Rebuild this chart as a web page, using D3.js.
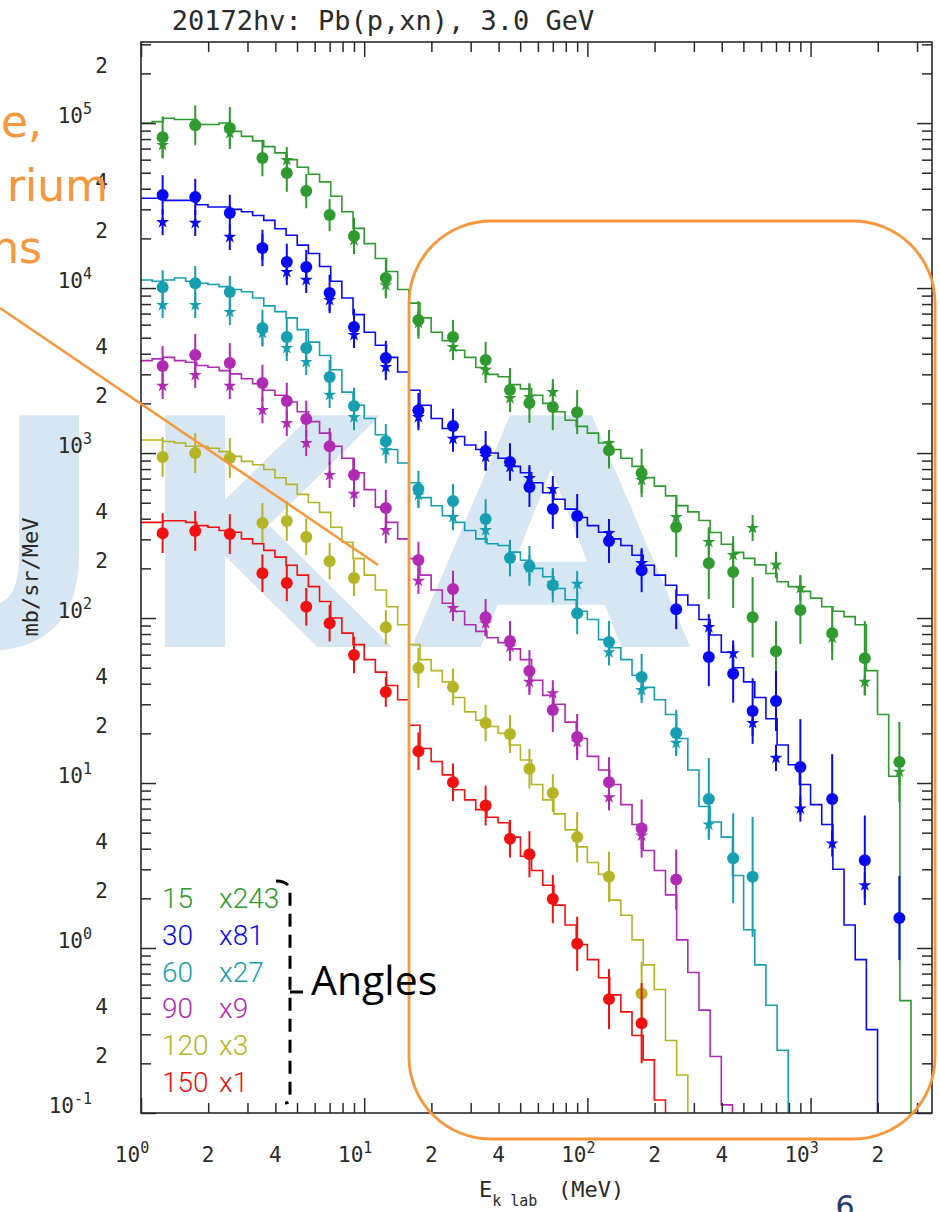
<!DOCTYPE html>
<html>
<head>
<meta charset="utf-8">
<script src="https://cdn.jsdelivr.net/npm/d3@7"></script>
<style>
    body { margin: 0; background: #fff; }
    svg { display: block; }
</style>
</head>
<body>
<svg id="chart" width="940" height="1212"></svg>
<script>

// ##################################################
// #                                                #
// #  Data                                          #
// #                                                #
// ##################################################

// energies of the measured points (MeV)
const energies = [1.25, 1.75, 2.5, 3.5, 4.5, 5.5, 7, 9, 12.5, 17.5, 25, 35, 45, 55, 70, 90,
    125, 175, 250, 350, 450, 550, 700, 900, 1250, 1750, 2500];

const angles = [15, 30, 60, 90, 120, 150];
const factors = ['x243', 'x81', 'x27', 'x9', 'x3', 'x1'];
const colors = ['#2f9a2f', '#0a0af2', '#159fb0', '#b02ab4', '#b4b424', '#f21010'];

// histogram bins, 20 per decade starting at 1 MeV (scaled mb/sr/MeV)
const hist15 = [100000, 102000, 107000, 105000, 105000, 98000, 98000, 100000, 89000, 83000,
    78000, 72000, 66000, 60000, 54000, 49000, 44000, 36000, 29000, 23000,
    18600, 15100, 12600, 9800, 8100, 6600, 5400, 4800, 4200, 3800,
    3300, 3000, 2900, 2600, 2450, 2240, 2000, 1780, 1580, 1450,
    1320, 1150, 1050, 930, 830, 710, 630, 550, 480, 440,
    390, 330, 280, 250, 230, 210, 186, 166, 155, 145,
    132, 117, 110, 102, 91, 48, 26, 11, 0.48];
const hist30 = [35000, 35000, 34000, 34000, 34000, 32000, 31000, 31000, 30000, 29000,
    27500, 25700, 22900, 20900, 18200, 16200, 13500, 11000, 8700, 6900,
    5400, 4500, 3800, 3100, 2400, 1950, 1620, 1410, 1260, 1120,
    1050, 1000, 930, 830, 760, 660, 575, 525, 457, 407,
    363, 331, 302, 275, 240, 209, 182, 158, 138, 120,
    98, 79, 62, 50, 41, 33, 24.5, 17, 12.9, 9.8,
    7.4, 5.6, 3.0, 1.38, 0.85, 0.32];
const hist60 = [11200, 11000, 11200, 11500, 11000, 10700, 10500, 10200, 9800, 9500,
    8700, 7800, 7200, 6600, 5600, 4700, 3900, 3200, 2340, 1950,
    1620, 1290, 1050, 870, 660, 537, 479, 417, 380, 339,
    302, 282, 275, 251, 224, 200, 178, 151, 129, 110,
    98, 74, 66, 56, 45, 38, 32, 26, 18.6, 12,
    7.2, 5.8, 4.7, 2.75, 1.29, 0.79, 0.45, 0.24];
const hist90 = [3630, 3720, 3800, 3630, 3550, 3390, 3310, 3160, 3020, 2820,
    2630, 2400, 2240, 2040, 1780, 1550, 1320, 1100, 930, 760,
    600, 470, 380, 302, 229, 182, 148, 123, 110, 91,
    83, 76, 71, 65, 56, 42, 34, 30, 23.4, 18.6,
    14.5, 12, 9.8, 7.4, 5.6, 3.9, 2.95, 2.1, 1.12, 0.71,
    0.42, 0.22, 0.112];
const hist120 = [1200, 1200, 1175, 1150, 1100, 1100, 1070, 1020, 955, 890,
    850, 794, 708, 646, 562, 501, 437, 355, 288, 229,
    182, 148, 117, 91, 69, 56, 48, 41, 33, 27,
    24, 22, 20, 17, 13.8, 9.8, 7.9, 6.5, 5.2, 4.1,
    3.3, 2.8, 1.95, 1.58, 1.12, 0.79, 0.56, 0.275, 0.17];
const hist150 = [380, 380, 389, 389, 380, 363, 355, 339, 331, 302,
    282, 257, 234, 209, 182, 155, 126, 100, 81, 69,
    56, 47, 39, 32, 22.4, 16.2, 13.5, 11.2, 9.1, 7.9,
    6.9, 6.2, 5.75, 4.7, 3.6, 2.95, 2.4, 1.82, 1.38, 1.05,
    0.85, 0.66, 0.52, 0.41, 0.295, 0.21, 0.12];

// measured points, circles
const circ15 = [82000, 97000, 93300, 61400, 49800, 38700, 27700, 20700, 11500, 6400, 5050, 3660, 2410, 2010,
    1900, 1770, 1040, 757, 356, 215, 190, 101, 63, 112, 81, 57, 13.4];
const circ30 = [36600, 35600, 28500, 17500, 14400, 13400, 9330, 5800, 3770, 1820, 1460, 1030, 882, 622,
    458, 415, 293, 195, 113, 58, 46, 27.3, 31.4, 12.5, 8.0, 3.4, 1.52];
const circ60 = [10100, 10700, 9460, 5720, 5050, 4330, 2890, 1930, 1180, 605, 512, 398, 231, 207,
    158, 107, 71.6, 43.9, 20.1, 8.0, 3.5, 2.7, null, null, null, null, null];
const circ90 = [3370, 3930, 3510, 2660, 2070, 1610, 1100, 736, 464, 225, 150, 101, 72.6, 47.7,
    27.7, 19.0, 10.1, 5.3, 2.6, null, null, null, null, null, null, null, null];
const circ120 = [946, 1000, 933, 377, 387, 310, 221, 175, 88, 49.8, 38.2, 23.1, 19.8, 12.2,
    8.7, 4.7, 2.7, 0.53, null, null, null, null, null, null, null, null, null];
const circ150 = [327, 337, 323, 187, 163, 117, 93, 59.7, 35.6, 15.6, 10.1, 7.3, 4.6, 3.7,
    1.98, 1.06, 0.49, 0.35, null, null, null, null, null, null, null, null, null];

// multiplicative error on the circles
const err15 = [1.34, 1.32, 1.34, 1.29, 1.30, 1.27, 1.25, 1.29, 1.29, 1.30, 1.27, 1.29, 1.36, 1.32,
    1.38, 1.36, 1.29, 1.40, 1.52, 1.65, 1.65, 1.75, 1.52, 1.61, 1.46, 1.68, 1.75];
const err30 = [1.32, 1.29, 1.29, 1.29, 1.29, 1.27, 1.29, 1.29, 1.27, 1.27, 1.27, 1.32, 1.30, 1.32,
    1.32, 1.36, 1.36, 1.36, 1.32, 1.50, 1.50, 1.58, 1.52, 1.95, 1.87, 1.87, 1.80];
const err60 = [1.27, 1.27, 1.25, 1.29, 1.30, 1.27, 1.27, 1.29, 1.27, 1.29, 1.27, 1.32, 1.29, 1.32,
    1.27, 1.34, 1.34, 1.38, 1.38, 1.77, 1.87, 2.31, null, null, null, null, null];
const err90 = [1.32, 1.34, 1.32, 1.29, 1.29, 1.29, 1.29, 1.27, 1.29, 1.29, 1.29, 1.29, 1.32, 1.34,
    1.36, 1.38, 1.42, 1.50, 1.52, null, null, null, null, null, null, null, null];
const err120 = [1.32, 1.32, 1.32, 1.32, 1.32, 1.29, 1.29, 1.29, 1.27, 1.32, 1.29, 1.29, 1.30, 1.32,
    1.30, 1.42, 1.42, 1.56, null, null, null, null, null, null, null, null, null];
const err150 = [1.32, 1.32, 1.32, 1.30, 1.29, 1.30, 1.29, 1.29, 1.23, 1.30, 1.30, 1.32, 1.30, 1.38,
    1.40, 1.46, 1.52, 1.75, null, null, null, null, null, null, null, null, null];

// measured points, stars
const star15 = [73600, null, 87000, null, 59700, null, null, 19500, 10400, 6140, 4390, 3190, 2150, 2180,
    2340, null, 1150, 686, 409, 289, 241, 351, 210, 152, 76, 41, 11.7];
const star30 = [25100, 24800, 20400, 17700, 12500, 11200, 8460, 5190, 3320, 1650, 1220, 946, 822, 705,
    605, null, 327, 215, null, 88, 61, 23.1, 14.2, 7.0, 4.3, 2.4, null];
const star60 = [7890, 7890, 7160, 5340, 4330, 3560, 2250, 1650, 1040, 557, 409, 341, null, 201,
    163, 161, 62, 36.6, 17.5, 5.6, null, null, null, null, null, null, null];
const star90 = [2550, 2970, 2550, 1820, 1520, 1150, 736, 565, 341, 168, 115, 93, 67, 41,
    35, 17.7, 8.2, 4.8, null, null, null, null, null, null, null, null, null];

// tick labels
const xLabels = [1, 2, 4, 10, 20, 40, 100, 200, 400, 1000, 2000];
const yLabels = [0.1, 0.2, 0.4, 1, 2, 4, 10, 20, 40, 100, 200, 400, 1000, 2000, 4000,
    10000, 20000, 40000, 100000, 200000];

// ##################################################
// #                                                #
// #  Setup                                         #
// #                                                #
// ##################################################

const plot = {left: 141, right: 932, top: 42, bottom: 1113};
const starErr = 1.2;
const binEdges = d3.range(0, 72).map(k => Math.pow(10, k / 20));

const series = [
    {hist: hist15, circ: circ15, err: err15, star: star15},
    {hist: hist30, circ: circ30, err: err30, star: star30},
    {hist: hist60, circ: circ60, err: err60, star: star60},
    {hist: hist90, circ: circ90, err: err90, star: star90},
    {hist: hist120, circ: circ120, err: err120, star: null},
    {hist: hist150, circ: circ150, err: err150, star: null}
].map((s, i) => Object.assign(s, {angle: angles[i], factor: factors[i], color: colors[i]}));

const x = d3.scaleLog().domain([1, 3500]).range([plot.left, plot.right]);
const y = d3.scaleLog().domain([0.1, 3.1e5]).range([plot.bottom, plot.top]);

const svg = d3.select('#chart');
const mono = 'DejaVu Sans Mono, monospace';
const ink = '#2a2a2a';

svg.append('rect').attr('width', 940).attr('height', 1212).attr('fill', '#fff');

// ##################################################
// #                                                #
// #  Watermark                                     #
// #                                                #
// ##################################################

let mark = svg.append('g')
    .attr('fill', '#d6e6f3')
    .attr('font-family', 'DejaVu Sans, sans-serif')
    .attr('font-weight', 'bold')
    .attr('font-size', 318);
mark.append('text').attr('x', -150).attr('y', 647).text('U');
mark.append('text').attr('x', 136).attr('y', 647).text('K');
mark.append('text').attr('x', 410).attr('y', 647)
    .attr('textLength', 282).attr('lengthAdjust', 'spacingAndGlyphs').text('A');

// ##################################################
// #                                                #
// #  Histograms and points                         #
// #                                                #
// ##################################################

svg.append('defs').append('clipPath').attr('id', 'plot-clip')
    .append('rect')
    .attr('x', plot.left).attr('y', plot.top)
    .attr('width', plot.right - plot.left).attr('height', plot.bottom - plot.top);

let dataGroup = svg.append('g').attr('clip-path', 'url(#plot-clip)');

let stepLine = d3.line()
    .x(d => x(d[0]))
    .y(d => y(d[1]))
    .curve(d3.curveStepAfter);

function stepPoints(values) {
    let pts = values.map((v, i) => [binEdges[i], v]);
    pts.push([binEdges[values.length], values[values.length - 1]]);
    pts.push([binEdges[values.length], 0.05]);
    return pts;
}

dataGroup.selectAll('.hist')
    .data(series)
    .enter()
    .append('path')
    .attr('class', 'hist')
    .attr('fill', 'none')
    .attr('stroke', d => d.color)
    .attr('stroke-width', 1.6)
    .attr('d', d => stepLine(stepPoints(d.hist)));

let star = d3.symbol().type(d3.symbolStar).size(52);

series.forEach(s => {
    let g = dataGroup.append('g').attr('class', 'points');
    let circles = energies.map((e, i) => ({e, v: s.circ[i], f: s.err[i]})).filter(d => d.v != null);
    let stars = s.star ? energies.map((e, i) => ({e, v: s.star[i]})).filter(d => d.v != null) : [];

    g.selectAll('.err')
        .data(circles)
        .enter()
        .append('line')
        .attr('class', 'err')
        .attr('x1', d => x(d.e)).attr('x2', d => x(d.e))
        .attr('y1', d => y(d.v * d.f)).attr('y2', d => y(d.v / d.f))
        .attr('stroke', s.color).attr('stroke-width', 2);

    g.selectAll('.star-err')
        .data(stars)
        .enter()
        .append('line')
        .attr('class', 'star-err')
        .attr('x1', d => x(d.e)).attr('x2', d => x(d.e))
        .attr('y1', d => y(d.v * starErr)).attr('y2', d => y(d.v / starErr))
        .attr('stroke', s.color).attr('stroke-width', 2);

    g.selectAll('.star')
        .data(stars)
        .enter()
        .append('path')
        .attr('class', 'star')
        .attr('transform', d => `translate(${x(d.e)},${y(d.v)})`)
        .attr('d', star)
        .attr('fill', s.color);

    g.selectAll('.dot')
        .data(circles)
        .enter()
        .append('circle')
        .attr('class', 'dot')
        .attr('cx', d => x(d.e)).attr('cy', d => y(d.v))
        .attr('r', 6)
        .attr('fill', s.color);
});

// ##################################################
// #                                                #
// #  Axes                                          #
// #                                                #
// ##################################################

let xTicks = x.ticks();
let yTicks = y.ticks();
const isMajor = v => Math.abs(Math.log10(v) - Math.round(Math.log10(v))) < 1e-6;

function tickAxis(axisFn, scale, values, size, transform) {
    let g = svg.append('g')
        .attr('transform', transform)
        .call(axisFn(scale).tickValues(values).tickSizeInner(-size).tickSizeOuter(0).tickFormat(''));
    g.select('.domain').remove();
    g.selectAll('line').attr('stroke', ink).attr('stroke-width', 1.5);
}

[[d3.axisBottom, x, xTicks, `translate(0,${plot.bottom})`],
 [d3.axisTop, x, xTicks, `translate(0,${plot.top})`],
 [d3.axisLeft, y, yTicks, `translate(${plot.left},0)`],
 [d3.axisRight, y, yTicks, `translate(${plot.right},0)`]].forEach(a => {
    tickAxis(a[0], a[1], a[2].filter(v => !isMajor(v)), 10, a[3]);
    tickAxis(a[0], a[1], a[2].filter(isMajor), 15, a[3]);
});

svg.append('rect')
    .attr('x', plot.left).attr('y', plot.top)
    .attr('width', plot.right - plot.left).attr('height', plot.bottom - plot.top)
    .attr('fill', 'none').attr('stroke', ink).attr('stroke-width', 1.6);

function label(g, v) {
    if (isMajor(v)) {
        g.append('tspan').text('10');
        g.append('tspan').attr('dy', -9).attr('font-size', 15).text(Math.round(Math.log10(v)));
    } else {
        g.text(Math.round(v / Math.pow(10, Math.floor(Math.log10(v) + 1e-9))));
    }
}

let xl = svg.append('g').attr('font-family', mono).attr('font-size', 21).attr('fill', ink);
xLabels.forEach(v => {
    let t = xl.append('text')
        .attr('x', isMajor(v) ? x(v) - 9 : x(v))
        .attr('y', 1162)
        .attr('text-anchor', 'middle');
    label(t, v);
});

let yl = svg.append('g').attr('font-family', mono).attr('font-size', 21).attr('fill', ink);
yLabels.forEach(v => {
    let t = yl.append('text')
        .attr('x', isMajor(v) ? 92 : 108)
        .attr('y', y(v))
        .attr('text-anchor', 'end');
    label(t, v);
});

// titles
svg.append('text')
    .attr('x', 383).attr('y', 30)
    .attr('text-anchor', 'middle')
    .attr('font-family', mono).attr('font-size', 27).attr('fill', ink)
    .text('20172hv: Pb(p,xn), 3.0 GeV');

let xt = svg.append('text')
    .attr('x', 479).attr('y', 1197)
    .attr('font-family', mono).attr('font-size', 22).attr('fill', ink);
xt.append('tspan').text('E');
xt.append('tspan').attr('dy', 9).attr('font-size', 15).text('k lab');
xt.append('tspan').attr('dy', -9).attr('x', 558).text('(MeV)');

svg.append('text')
    .attr('transform', 'translate(38,577) rotate(-90)')
    .attr('text-anchor', 'middle')
    .attr('font-family', mono).attr('font-size', 22).attr('fill', ink)
    .text('mb/sr/MeV');

// ##################################################
// #                                                #
// #  Legend                                        #
// #                                                #
// ##################################################

let legend = svg.append('g')
    .attr('font-family', 'Roboto, sans-serif')
    .attr('font-weight', 300)
    .attr('font-size', 28);

let rows = legend.selectAll('.row')
    .data(series)
    .enter()
    .append('g')
    .attr('class', 'row')
    .attr('fill', d => d.color)
    .attr('transform', (d, i) => `translate(0,${908 + i * 36.8})`);
rows.append('text').attr('x', 162).text(d => d.angle);
rows.append('text').attr('x', 219).text(d => d.factor);

// ##################################################
// #                                                #
// #  Annotations                                   #
// #                                                #
// ##################################################

const orange = '#f7963b';

let note = svg.append('g')
    .attr('fill', orange)
    .attr('font-family', 'DejaVu Sans, sans-serif')
    .attr('font-size', 44)
    .attr('text-anchor', 'end');
note.append('text').attr('x', 42).attr('y', 137).text('e,');
note.append('text').attr('x', 108).attr('y', 201).text('rium');
note.append('text').attr('x', 42).attr('y', 263).text('ns');

svg.append('line')
    .attr('x1', 0).attr('y1', 308).attr('x2', 378).attr('y2', 565)
    .attr('stroke', orange).attr('stroke-width', 2.5);

svg.append('rect')
    .attr('x', 409).attr('y', 221).attr('width', 526).attr('height', 918)
    .attr('rx', 82).attr('ry', 82)
    .attr('fill', 'none').attr('stroke', orange).attr('stroke-width', 2.8);

svg.append('path')
    .attr('d', 'M276,881 Q290,881 290,892 L290,1099 Q290,1103 285,1103 M290,992 L305,992')
    .attr('fill', 'none').attr('stroke', '#000').attr('stroke-width', 3)
    .attr('stroke-dasharray', '13,8');

svg.append('text')
    .attr('x', 311).attr('y', 995)
    .attr('font-family', 'Open Sans, sans-serif').attr('font-size', 41).attr('fill', '#000')
    .text('Angles');

svg.append('text')
    .attr('x', 845).attr('y', 1217)
    .attr('text-anchor', 'middle')
    .attr('font-family', 'DejaVu Sans, sans-serif').attr('font-size', 30).attr('fill', '#1f3a6e')
    .text('6');

</script>
</body>
</html>
